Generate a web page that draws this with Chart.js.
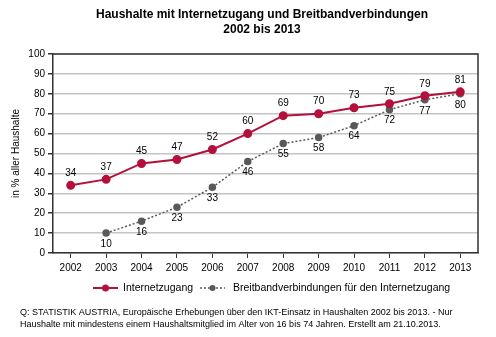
<!DOCTYPE html>
<html>
<head>
<meta charset="utf-8">
<script src="https://cdn.jsdelivr.net/npm/chart.js@4"></script>
<style>
  html, body { margin: 0; padding: 0; background: #fff; }
  #wrap { width: 496px; height: 337px; position: relative; }
</style>
</head>
<body>
<div id="wrap"><canvas id="chart" width="496" height="337"></canvas></div>
<script>
const years = ["2002", "2003", "2004", "2005", "2006", "2007", "2008", "2009", "2010", "2011", "2012", "2013"];
const internet = [34, 37, 45, 47, 52, 60, 69, 70, 73, 75, 79, 81];
const broadband = [null, 10, 16, 23, 33, 46, 55, 58, 64, 72, 77, 80];
const seriesNames = ["Internetzugang", "Breitbandverbindungen für den Internetzugang"];
const titleLines = ["Haushalte mit Internetzugang und Breitbandverbindungen", "2002 bis 2013"];
const noteLines = [
    "Q: STATISTIK AUSTRIA, Europäische Erhebungen über den IKT-Einsatz in Haushalten 2002 bis 2013. - Nur",
    "Haushalte mit mindestens einem Haushaltsmitglied im Alter von 16 bis 74 Jahren. Erstellt am 21.10.2013."
];

const RED = "#b3103b";
const GRAY = "#5a5a5a";
const FONT = "'Liberation Sans', Arial, sans-serif";

// value labels: red above, gray below
const valueLabels = {
    id: "valueLabels",
    afterDatasetsDraw(chart) {
        const ctx = chart.ctx;
        ctx.save();
        ctx.font = "10px " + FONT;
        ctx.fillStyle = "#000";
        ctx.textAlign = "center";
        ctx.textBaseline = "middle";
        chart.data.datasets.forEach((ds, i) => {
            chart.getDatasetMeta(i).data.forEach((pt, j) => {
                if (ds.data[j] == null) return;
                let dy = i === 0 ? -12 : 11;
                ctx.fillText(ds.data[j], pt.x, pt.y + dy);
            });
        });
        ctx.restore();
    }
};

// frame, title, legend and footnote
const extras = {
    id: "extras",
    beforeDatasetsDraw(chart) {
        const { ctx, chartArea: a } = chart;
        ctx.save();
        ctx.strokeStyle = "#333";
        ctx.lineWidth = 1.5;
        ctx.beginPath();
        ctx.moveTo(a.left, a.top);
        ctx.lineTo(a.right, a.top);
        ctx.lineTo(a.right, a.bottom);
        ctx.stroke();
        ctx.restore();
    },
    afterDraw(chart) {
        const ctx = chart.ctx;
        ctx.save();
        ctx.fillStyle = "#000";
        ctx.textAlign = "center";
        ctx.textBaseline = "middle";
        ctx.font = "bold 12px " + FONT;
        ctx.fillText(titleLines[0], 262, 15);
        ctx.fillText(titleLines[1], 262, 30);

        // legend
        const ly = 288;
        const items = [
            { x: 93, tx: 123, color: RED, dash: [], r: 3.5, text: seriesNames[0] },
            { x: 200, tx: 233, color: GRAY, dash: [2, 2], r: 3, text: seriesNames[1] }
        ];
        ctx.font = "10.5px " + FONT;
        ctx.textAlign = "left";
        items.forEach(it => {
            ctx.strokeStyle = it.color;
            ctx.lineWidth = it.dash.length ? 1.5 : 2;
            ctx.setLineDash(it.dash);
            ctx.beginPath();
            ctx.moveTo(it.x, ly);
            ctx.lineTo(it.x + 25, ly);
            ctx.stroke();
            ctx.setLineDash([]);
            ctx.fillStyle = it.color;
            ctx.beginPath();
            ctx.arc(it.x + 12.5, ly, it.r, 0, Math.PI * 2);
            ctx.fill();
            ctx.fillStyle = "#000";
            ctx.fillText(it.text, it.tx, ly);
        });

        ctx.font = "9px " + FONT;
        ctx.fillText(noteLines[0], 20, 313);
        ctx.fillText(noteLines[1], 20, 325);
        ctx.restore();
    }
};

new Chart(document.getElementById("chart"), {
    type: "line",
    data: {
        labels: years,
        datasets: [
            {
                label: seriesNames[0],
                data: internet,
                borderColor: RED,
                backgroundColor: RED,
                borderWidth: 2,
                pointRadius: 3.5,
                pointHoverRadius: 3.5,
                tension: 0
            },
            {
                label: seriesNames[1],
                data: broadband,
                borderColor: GRAY,
                backgroundColor: GRAY,
                borderWidth: 1.5,
                borderDash: [2, 2],
                pointRadius: 3,
                pointHoverRadius: 3,
                tension: 0
            }
        ]
    },
    options: {
        responsive: false,
        animation: false,
        layout: { padding: { top: 54, right: 18, bottom: 59, left: 0 } },
        plugins: {
            legend: { display: false },
            title: { display: false },
            tooltip: { enabled: false }
        },
        scales: {
            x: {
                offset: true,
                grid: { offset: false, drawOnChartArea: false, tickLength: 5, color: "#333", lineWidth: 1 },
                border: { color: "#333", width: 1.5 },
                ticks: { color: "#000", font: { family: FONT, size: 10 }, padding: 4, maxRotation: 0, autoSkip: false }
            },
            y: {
                min: 0,
                max: 100,
                afterFit(scale) { scale.width = 53; },
                ticks: { stepSize: 10, color: "#000", font: { family: FONT, size: 10 }, padding: 3 },
                grid: { color: "#c4c4c4", lineWidth: 1.5, tickLength: 5, tickColor: "#333" },
                border: { color: "#333", width: 1.5 },
                title: { display: true, text: "in % aller Haushalte", color: "#000", font: { family: FONT, size: 10 }, padding: { top: 10, bottom: 0 } }
            }
        }
    },
    plugins: [valueLabels, extras]
});
</script>
</body>
</html>
